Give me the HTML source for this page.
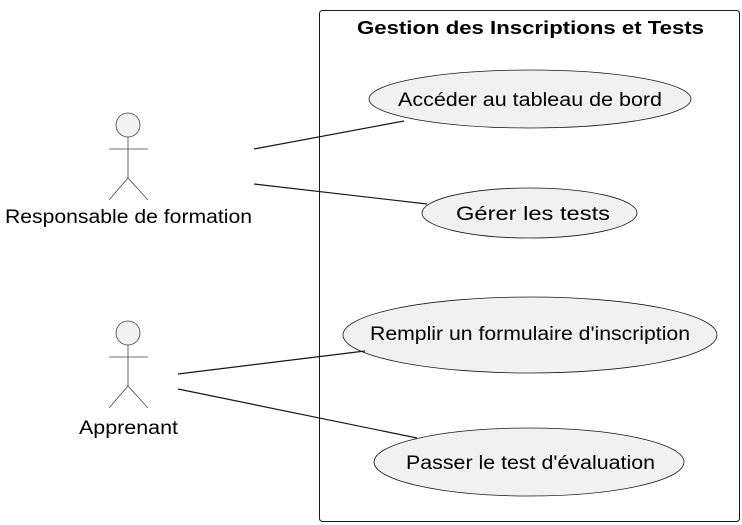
<!DOCTYPE html>
<html><head><meta charset="utf-8"><style>
html,body{margin:0;padding:0;background:#fff;}
svg{display:block;}
text{font-family:"Liberation Sans",sans-serif;fill:#000;}
</style></head><body>
<svg width="742" height="525" viewBox="0 0 742 525" xmlns="http://www.w3.org/2000/svg">
<rect x="319.5" y="10.5" width="420" height="511" rx="3" fill="none" stroke="#181818" stroke-width="1"/>
<text x="357" y="34" font-size="18" font-weight="bold" textLength="347" lengthAdjust="spacingAndGlyphs">Gestion des Inscriptions et Tests</text>

<g stroke="#181818" fill="#f1f1f1" stroke-width="0.8">
<ellipse cx="530" cy="99" rx="161" ry="29"/>
<ellipse cx="529.5" cy="213" rx="107.5" ry="25"/>
<ellipse cx="530" cy="335" rx="187" ry="38"/>
<ellipse cx="529" cy="462" rx="155" ry="34"/>
</g>
<g font-size="19" lengthAdjust="spacingAndGlyphs">
<text x="398" y="106" textLength="264" lengthAdjust="spacingAndGlyphs">Accéder au tableau de bord</text>
<text x="456" y="220" textLength="154" lengthAdjust="spacingAndGlyphs">Gérer les tests</text>
<text x="370" y="340" textLength="320" lengthAdjust="spacingAndGlyphs">Remplir un formulaire d'inscription</text>
<text x="406" y="469" textLength="249" lengthAdjust="spacingAndGlyphs">Passer le test d'évaluation</text>
</g>

<g stroke="#181818" stroke-width="1.2">
<line x1="254" y1="149" x2="404" y2="121"/>
<line x1="254" y1="184" x2="427" y2="204"/>
<line x1="178" y1="374" x2="365" y2="351"/>
<line x1="178" y1="389" x2="417" y2="438"/>
</g>

<g stroke="#444" stroke-width="0.8" fill="none">
<circle cx="128" cy="125" r="12" fill="#f1f1f1"/>
<line x1="128" y1="137" x2="128" y2="178"/>
<line x1="109" y1="149" x2="148" y2="149"/>
<polyline points="109,200 128,178 148,200"/>
<circle cx="128" cy="333" r="12" fill="#f1f1f1"/>
<line x1="128" y1="345" x2="128" y2="386"/>
<line x1="109" y1="357" x2="148" y2="357"/>
<polyline points="109,408 128,386 148,408"/>
</g>
<g font-size="19">
<text x="5" y="223" textLength="247" lengthAdjust="spacingAndGlyphs">Responsable de formation</text>
<text x="79" y="434" textLength="99" lengthAdjust="spacingAndGlyphs">Apprenant</text>
</g>
</svg>
</body></html>
